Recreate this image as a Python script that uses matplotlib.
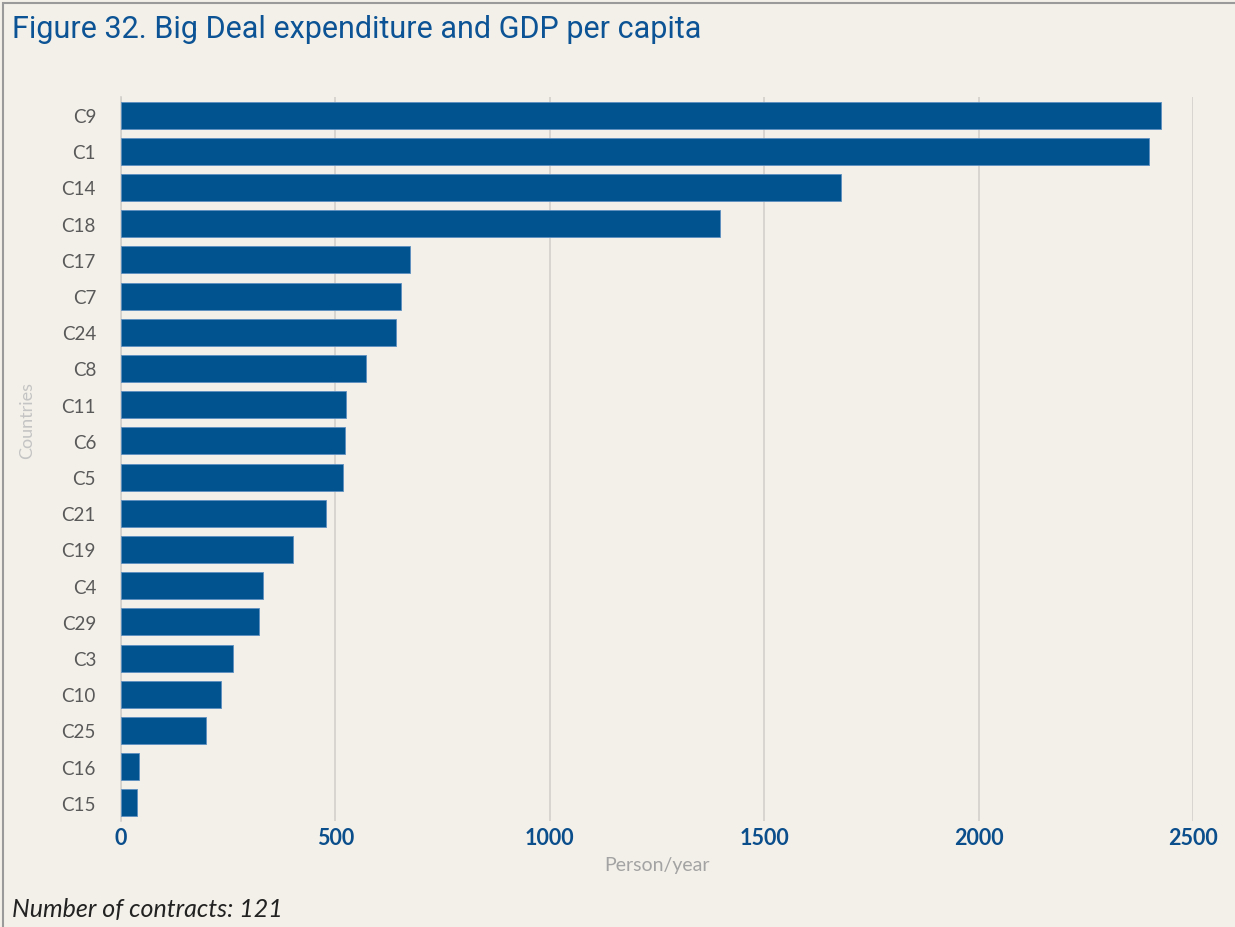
import matplotlib
matplotlib.use('Agg')
import matplotlib.pyplot as plt
from matplotlib.patches import Rectangle

# datos (de arriba hacia abajo)
paises = ['C9', 'C1', 'C14', 'C18', 'C17', 'C7', 'C24', 'C8', 'C11', 'C6',
          'C5', 'C21', 'C19', 'C4', 'C29', 'C3', 'C10', 'C25', 'C16', 'C15']
gasto = [2426, 2398, 1680, 1397, 674, 652, 641, 571, 525, 523,
         517, 479, 400, 330, 322, 262, 234, 198, 42, 38]
ticks_x = [0, 500, 1000, 1500, 2000, 2500]

fondo = '#F3F0E9'
azul = '#00538F'

plt.rcParams['font.family'] = ['Lato', 'DejaVu Sans']

fig = plt.figure(figsize=(12.35, 9.28), dpi=100, facecolor=fondo)
ax = fig.add_axes([121/1235, 1-822/928, (1193-121)/1235, (822-98)/928])
ax.set_facecolor(fondo)

pos = list(range(len(paises)))
ax.barh(pos, gasto, height=0.75, color=azul, edgecolor='#5D8FBF', linewidth=0.6, zorder=3)

ax.set_xlim(0, 2500)
ax.set_ylim(len(paises)-0.5, -0.5)
ax.set_yticks(pos)
ax.set_yticklabels(paises, fontsize=13.5, color='#595959')
ax.set_xticks(ticks_x)
ax.set_xticklabels([str(t) for t in ticks_x], fontsize=15.5, fontweight='bold', color='#0B4E8C')
ax.tick_params(axis='both', length=0)
ax.tick_params(axis='y', pad=18)
ax.tick_params(axis='x', pad=4)

ax.grid(axis='x', color='#D3D0CB', linewidth=1.2, zorder=0)
for s in ['top', 'right', 'bottom']:
    ax.spines[s].set_visible(False)
ax.spines['left'].set_color('#D3D0CB')
ax.spines['left'].set_linewidth(1.2)

ax.set_xlabel('Person/year', fontsize=14, color='#A3A3A3', labelpad=6)
ax.set_ylabel('Countries', fontsize=13, color='#C4C4C4')
ax.yaxis.set_label_coords(-(121-35)/1072, (822-421)/724)

fig.text(12/1235, 1-30/928, 'Figure 32. Big Deal expenditure and GDP per capita',
         fontsize=22, color='#0B5394', family=['Roboto', 'DejaVu Sans'], va='center', ha='left')
fig.text(12/1235, 1-910/928, 'Number of contracts: 121', fontsize=18, style='italic',
         color='#222222', va='center', ha='left')

# marco del recuadro
fig.patches.append(Rectangle((3/1235, -0.01), 1.02, 1-4/928+0.01, transform=fig.transFigure,
                             fill=False, edgecolor='#9A9A9A', linewidth=1.5))

fig.savefig('out.png', dpi=100, facecolor=fondo)
